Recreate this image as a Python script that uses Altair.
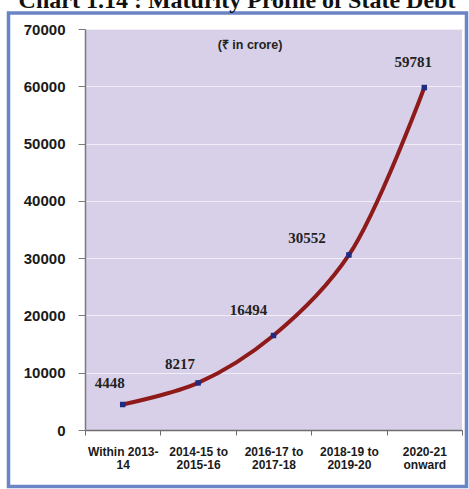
import altair as alt
import pandas as pd

# Maturity buckets (two-line axis labels) and outstanding debt maturing in each
periods = [
    "Within 2013-\n14",
    "2014-15 to\n2015-16",
    "2016-17 to\n2017-18",
    "2018-19 to\n2019-20",
    "2020-21\nonward",
]
amounts = [4448, 8217, 16494, 30552, 59781]

df = pd.DataFrame({"period": periods, "amount": amounts})

PLOT_W, PLOT_H = 377, 401
LINE_RED = "#8e1a1a"
MARKER_BLUE = "#1f2a80"
FRAME_BLUE = "#6a84c6"

x_enc = alt.X(
    "period:N",
    sort=periods,
    scale=alt.Scale(paddingInner=0, paddingOuter=0),
    axis=alt.Axis(
        title=None,
        labelAngle=0,
        labelExpr="split(datum.label, '\\n')",
        labelFont="Liberation Sans",
        labelFontWeight="bold",
        labelFontSize=12,
        labelLineHeight=13,
        labelColor="#1a1a1a",
        labelPadding=11,
        labelBaseline="top",
        tickBand="extent",
        tickSize=5,
        tickColor="#6e6e6e",
        domainColor="#6e6e6e",
        domainWidth=1.5,
        grid=False,
    ),
)
y_enc = alt.Y(
    "amount:Q",
    scale=alt.Scale(domain=[0, 70000], nice=False),
    axis=alt.Axis(
        title=None,
        values=list(range(0, 70001, 10000)),
        format="d",
        labelFont="Liberation Sans",
        labelFontWeight="bold",
        labelFontSize=15,
        labelColor="#1a1a1a",
        labelPadding=13,
        tickSize=7,
        tickColor="#7a7a7a",
        domainColor="#7a7a7a",
        domainWidth=1.5,
        gridColor="#f1eef8",
        gridWidth=1,
    ),
)

base = alt.Chart(df)

line = base.mark_line(
    interpolate="catmull-rom", color=LINE_RED, strokeWidth=4
).encode(x=x_enc, y=y_enc)

points = base.mark_square(size=30, color=MARKER_BLUE, opacity=1).encode(
    x=alt.X("period:N", sort=periods), y="amount:Q"
)

# value labels, each nudged clear of the curve
label_offsets = {
    periods[0]: (-13, -22),
    periods[1]: (-18, -19),
    periods[2]: (-25, -26),
    periods[3]: (-42, -17),
    periods[4]: (-11, -26),
}
value_labels = [
    base.transform_filter(alt.datum.period == p)
    .mark_text(
        font="Liberation Serif",
        fontWeight="bold",
        fontSize=15,
        color="#222222",
        align="center",
        baseline="middle",
        dx=dx,
        dy=dy,
    )
    .encode(x=alt.X("period:N", sort=periods), y="amount:Q", text="amount:Q")
    for p, (dx, dy) in label_offsets.items()
]

deco = alt.Chart(pd.DataFrame({"k": [0]}))

unit_note = deco.mark_text(
    text="(₹ in crore)",
    font="Liberation Sans",
    fontWeight="bold",
    fontSize=12.5,
    color="#222222",
    align="center",
    baseline="middle",
).encode(x=alt.value(165), y=alt.value(16))

heading = deco.mark_text(
    text="Chart 1.14 : Maturity Profile of State Debt",
    font="Liberation Serif",
    fontWeight="bold",
    fontSize=24,
    color="#111111",
    align="center",
    baseline="alphabetic",
).encode(x=alt.value(152), y=alt.value(-21))

frame = deco.mark_rect(
    fill=None, filled=False, stroke=FRAME_BLUE, strokeWidth=3.5
).encode(
    x=alt.value(-76.5), x2=alt.value(381.5), y=alt.value(-16), y2=alt.value(457.5)
)

chart = (
    alt.layer(frame, line, points, *value_labels, unit_note, heading)
    .properties(
        width=PLOT_W,
        height=PLOT_H,
        autosize=alt.AutoSizeParams(type="none"),
        padding={"left": 85, "top": 29, "right": 7, "bottom": 59},
        background="white",
    )
    .configure_view(fill="#d8d0e8", stroke=None)
)

chart.save("out.html", embed_options={"renderer": "svg", "actions": False})
